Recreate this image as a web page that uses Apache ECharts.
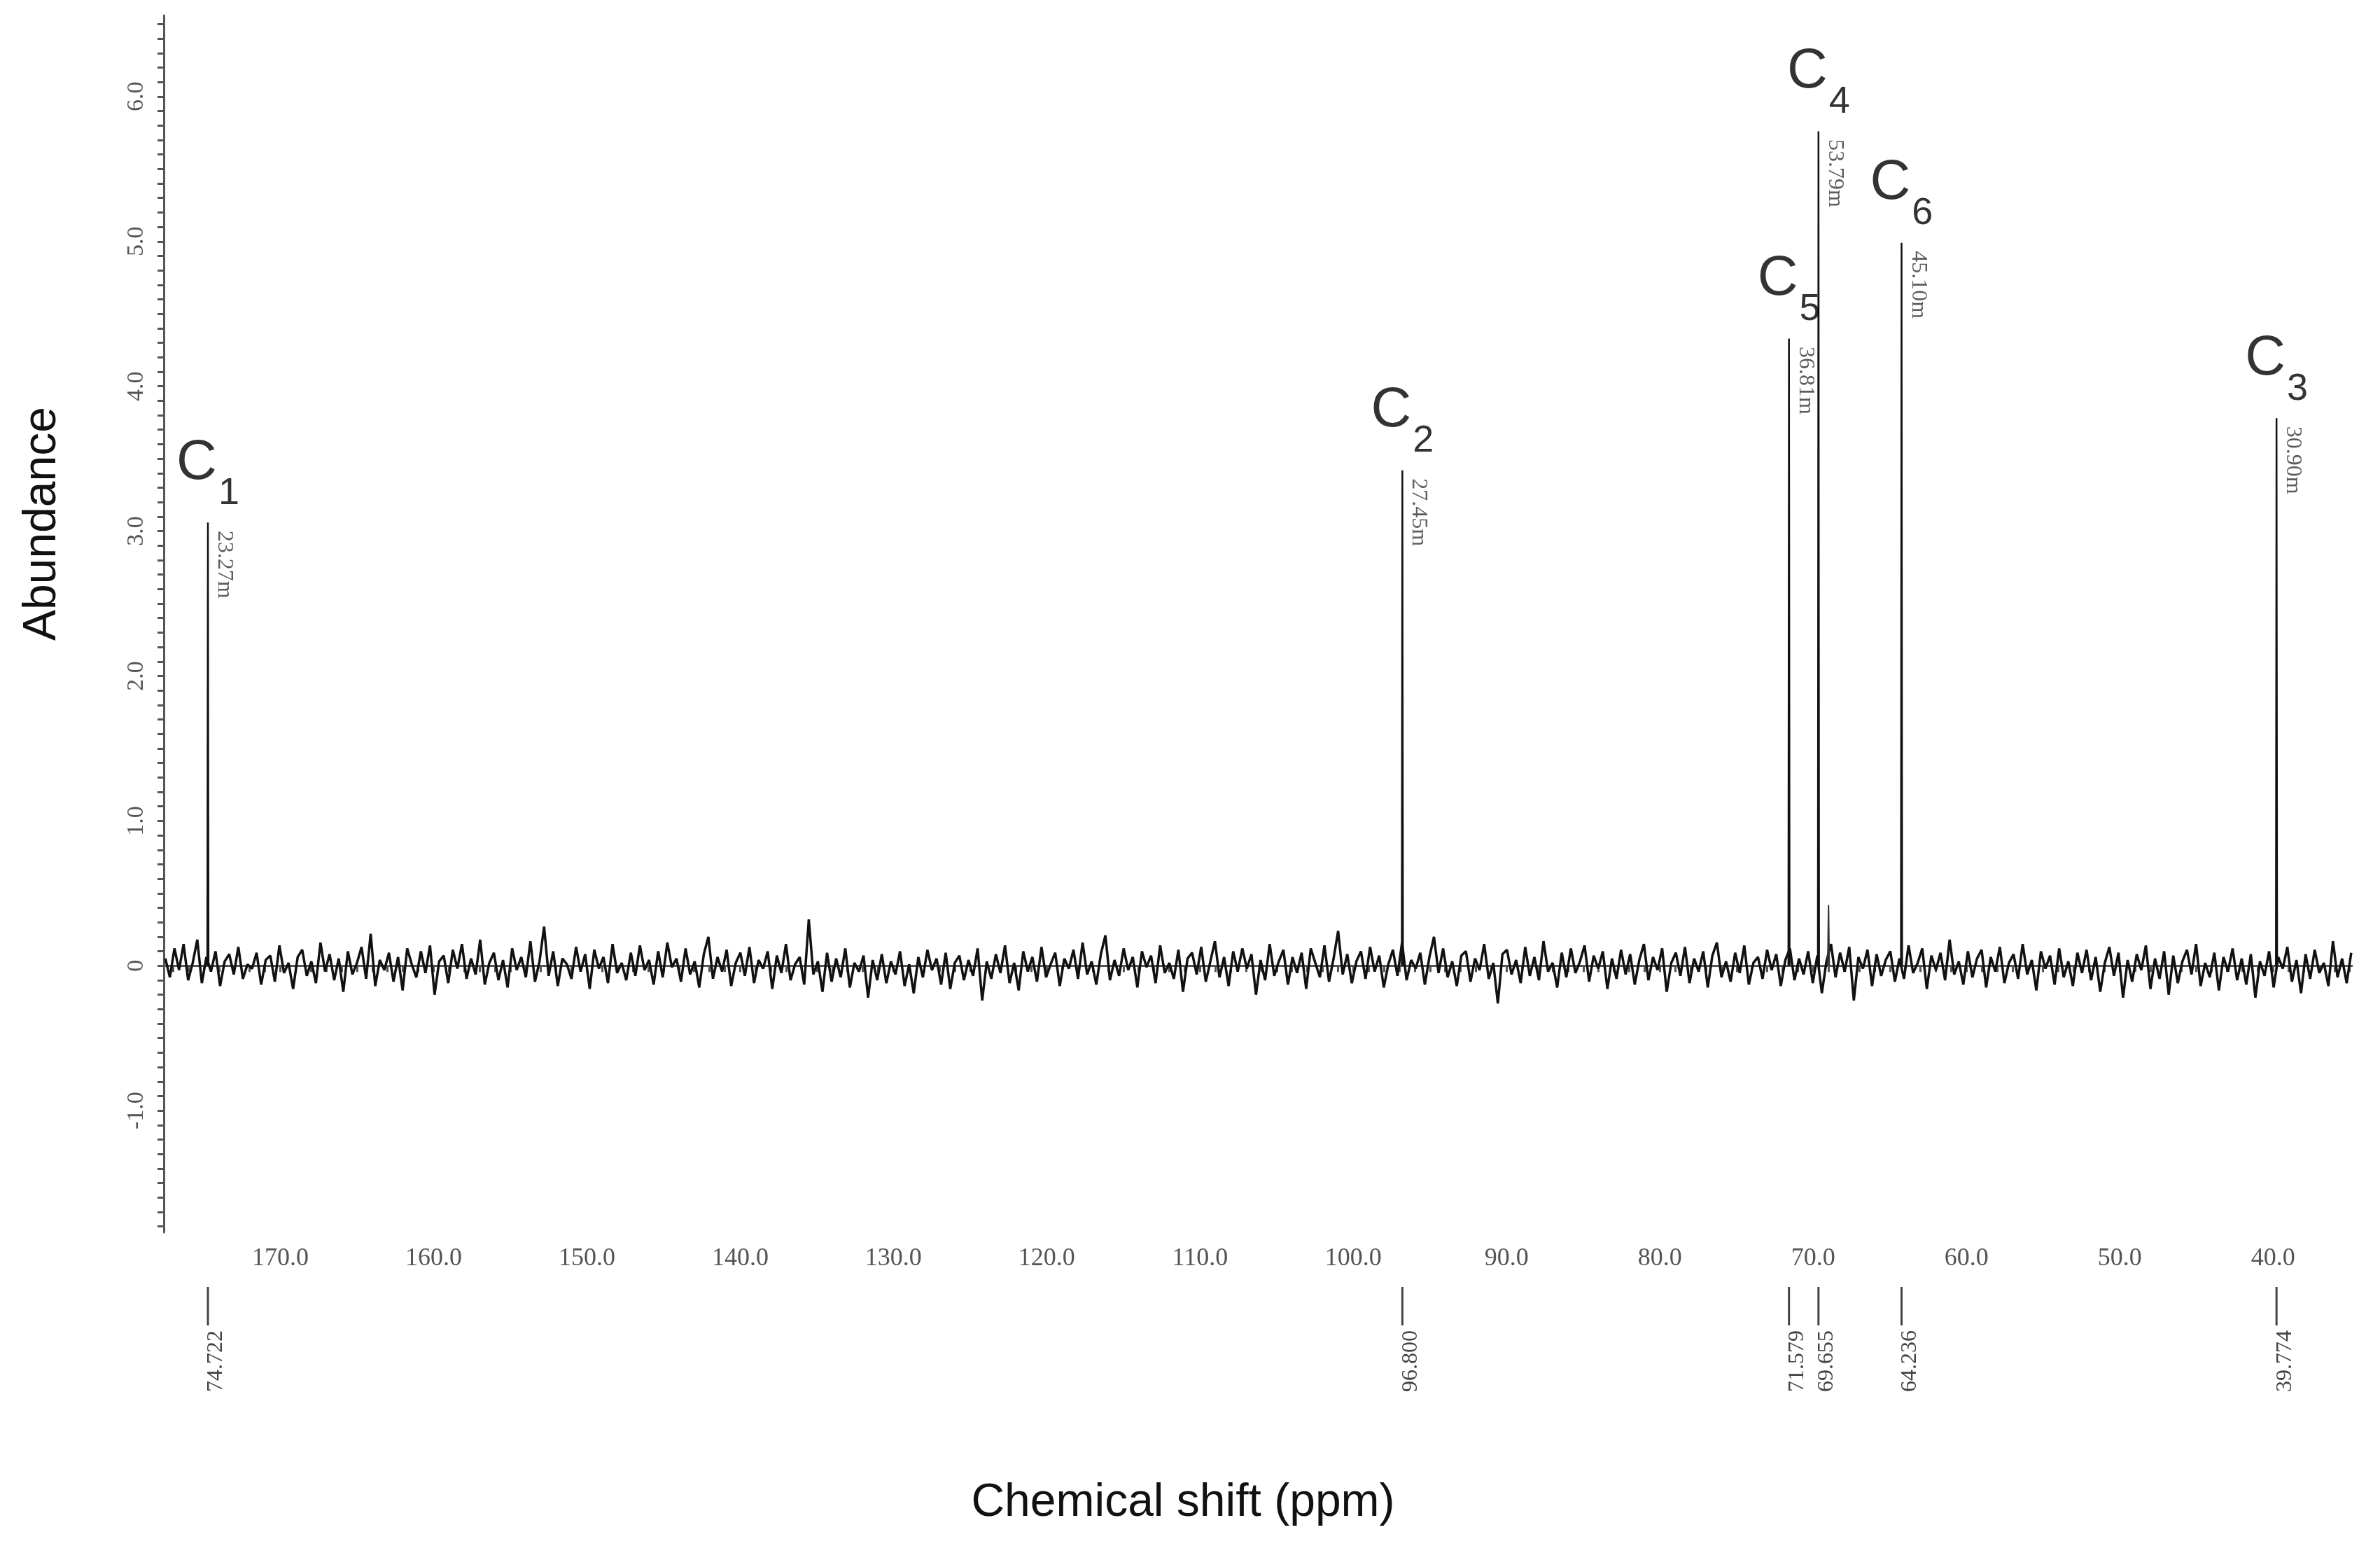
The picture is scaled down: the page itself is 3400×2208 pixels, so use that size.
<!DOCTYPE html>
<html>
<head>
<meta charset="utf-8">
<script src="https://cdn.jsdelivr.net/npm/echarts@6/dist/echarts.min.js"></script>
<style>html,body{margin:0;padding:0;background:#fff}#chart{width:3400px;height:2208px}</style>
</head>
<body>
<div id="chart"></div>
<script>
// 峰位置 (ppm)、高度、标签
const peakShift = [174.722, 96.800, 71.579, 69.655, 64.236, 39.774];
const peakHeight = [3.06, 3.42, 4.33, 5.76, 4.99, 3.78];
const peakArea = ['23.27m', '27.45m', '36.81m', '53.79m', '45.10m', '30.90m'];
const peakName = ['1', '2', '5', '4', '6', '3'];
const peakBottomLabel = ['74.722', '96.800', '71.579', '69.655', '64.236', '39.774'];
const xLabels = [40, 50, 60, 70, 80, 90, 100, 110, 120, 130, 140, 150, 160, 170];
const yLabels = [-1, 0, 1, 2, 3, 4, 5, 6];

// 基线噪声
const noiseStart = 177.5, noiseEnd = 34.9;
const noise = [
 0.05,-0.08,0.12,-0.03,0.15,-0.10,0.02,0.18,-0.12,0.06,-0.04,0.10,-0.14,0.03,0.08,-0.06,0.13,-0.09,0.01,-0.02,
 0.09,-0.13,0.04,0.07,-0.11,0.14,-0.05,0.02,-0.16,0.06,0.11,-0.07,0.03,-0.12,0.16,-0.04,0.08,-0.10,0.05,-0.18,
 0.10,-0.06,0.02,0.13,-0.09,0.22,-0.14,0.04,-0.03,0.09,-0.11,0.06,-0.17,0.12,0.01,-0.08,0.10,-0.05,0.14,-0.20,
 0.03,0.07,-0.12,0.11,-0.02,0.15,-0.09,0.05,-0.06,0.18,-0.13,0.02,0.09,-0.10,0.04,-0.15,0.12,-0.03,0.06,-0.08,
 0.17,-0.11,0.03,0.27,-0.07,0.10,-0.14,0.05,0.01,-0.09,0.13,-0.04,0.08,-0.16,0.11,-0.02,0.06,-0.12,0.15,-0.05,
 0.02,-0.10,0.09,-0.07,0.14,-0.03,0.04,-0.13,0.10,-0.08,0.16,-0.01,0.05,-0.11,0.12,-0.06,0.03,-0.15,0.08,0.20,
 -0.09,0.06,-0.04,0.11,-0.14,0.02,0.09,-0.07,0.13,-0.12,0.04,-0.02,0.10,-0.16,0.07,-0.05,0.15,-0.10,0.01,0.06,
 -0.13,0.32,-0.06,0.03,-0.18,0.09,-0.11,0.05,-0.08,0.12,-0.15,0.02,-0.04,0.07,-0.22,0.04,-0.10,0.08,-0.12,0.03,
 -0.06,0.10,-0.14,0.01,-0.19,0.06,-0.08,0.11,-0.03,0.05,-0.13,0.09,-0.16,0.02,0.07,-0.10,0.04,-0.07,0.12,-0.24,
 0.03,-0.09,0.08,-0.05,0.14,-0.12,0.02,-0.17,0.10,-0.04,0.06,-0.11,0.13,-0.08,0.01,0.09,-0.14,0.05,-0.02,0.11,
 -0.09,0.16,-0.06,0.03,-0.13,0.08,0.21,-0.10,0.04,-0.07,0.12,-0.03,0.06,-0.15,0.10,-0.01,0.07,-0.12,0.14,-0.05,
 0.02,-0.09,0.11,-0.18,0.05,0.09,-0.06,0.13,-0.11,0.03,0.17,-0.08,0.06,-0.14,0.10,-0.04,0.12,-0.02,0.08,-0.20,
 0.04,-0.10,0.15,-0.07,0.03,0.11,-0.13,0.06,-0.05,0.09,-0.16,0.12,0.02,-0.08,0.14,-0.11,0.05,0.24,-0.06,0.08,
 -0.12,0.03,0.10,-0.09,0.13,-0.04,0.07,-0.15,0.01,0.11,-0.07,0.16,-0.10,0.04,-0.02,0.09,-0.13,0.06,0.20,-0.05,
 0.12,-0.08,0.03,-0.14,0.07,0.10,-0.11,0.05,-0.03,0.15,-0.09,0.02,-0.26,0.08,0.11,-0.06,0.04,-0.12,0.13,-0.07,
 0.06,-0.10,0.17,-0.04,0.02,-0.15,0.09,-0.08,0.12,-0.05,0.03,0.14,-0.11,0.07,-0.02,0.10,-0.16,0.05,-0.09,0.11,
 -0.06,0.08,-0.13,0.04,0.15,-0.10,0.06,-0.03,0.12,-0.18,0.02,0.09,-0.07,0.13,-0.12,0.05,-0.04,0.10,-0.15,0.07,
 0.16,-0.08,0.03,-0.11,0.09,-0.05,0.14,-0.13,0.02,0.06,-0.09,0.11,-0.03,0.08,-0.14,0.04,0.12,-0.10,0.05,-0.06,
 0.10,-0.12,0.07,-0.19,0.03,0.15,-0.08,0.09,-0.04,0.13,-0.24,0.06,-0.02,0.11,-0.14,0.08,-0.07,0.04,0.10,-0.11,
 0.05,-0.09,0.14,-0.05,0.02,0.12,-0.16,0.07,-0.03,0.09,-0.10,0.18,-0.06,0.03,-0.13,0.10,-0.08,0.05,0.11,-0.15,
 0.06,-0.04,0.13,-0.12,0.02,0.08,-0.09,0.15,-0.06,0.04,-0.17,0.10,-0.02,0.07,-0.13,0.12,-0.08,0.03,-0.14,0.09,
 -0.05,0.11,-0.10,0.06,-0.18,0.02,0.13,-0.07,0.09,-0.22,0.04,-0.11,0.08,-0.03,0.14,-0.16,0.05,-0.09,0.10,-0.20,
 0.07,-0.12,0.03,0.11,-0.06,0.15,-0.14,0.02,-0.08,0.09,-0.17,0.06,-0.04,0.12,-0.10,0.05,-0.13,0.08,-0.22,0.03,
 -0.07,0.10,-0.15,0.06,-0.02,0.13,-0.11,0.04,-0.19,0.08,-0.09,0.11,-0.05,0.02,-0.14,0.17,-0.08,0.05,-0.12,0.09
];

const chart = echarts.init(document.getElementById('chart'));
const baseColor = '#555';
const serif = '"Liberation Serif", "DejaVu Serif", serif';
const sans = '"Liberation Sans", Arial, sans-serif';

const noiseData = noise.map((v, i) => [noiseStart + (noiseEnd - noiseStart) * i / (noise.length - 1), v]);
const yTicks = [];
for (let i = -18; i <= 65; i++) yTicks.push(i / 10);
const xTicks = [];
for (let i = 35; i <= 177; i++) xTicks.push(i);

const peakSeries = peakShift.map((x, i) => ({
    type: 'line',
    data: [[x + 0.04, 0], [x, peakHeight[i]], [x - 0.04, 0]],
    symbol: 'none',
    lineStyle: { color: '#111', width: 2.5 },
    z: 3
}));

const option = {
    animation: false,
    backgroundColor: '#fff',
    grid: { left: 234, right: 40, top: 22, bottom: 448 },
    xAxis: {
        type: 'value',
        inverse: true,
        min: 34.85,
        max: 177.6,
        axisLine: { show: true, lineStyle: { color: baseColor, width: 3 } },
        axisTick: { show: true, customValues: xTicks, length: 9, lineStyle: { color: baseColor, width: 3 } },
        axisLabel: {
            customValues: xLabels,
            formatter: v => v.toFixed(1),
            fontSize: 36, color: '#555', fontFamily: serif, margin: 20
        },
        splitLine: { show: false }
    },
    yAxis: {
        type: 'value',
        min: -1.84,
        max: 6.56,
        axisLine: { show: true, lineStyle: { color: baseColor, width: 3 } },
        axisTick: { show: true, customValues: yTicks, length: 9, lineStyle: { color: baseColor, width: 3 } },
        axisLabel: {
            customValues: yLabels,
            formatter: v => (v === 0 ? '0' : v.toFixed(1)),
            rotate: 90,
            fontSize: 34, color: '#555', fontFamily: serif, margin: 22
        },
        splitLine: { show: false }
    },
    series: [
        {
            type: 'line',
            data: noiseData,
            symbol: 'none',
            lineStyle: { color: '#111', width: 3.5 },
            z: 2
        },
        ...peakSeries,
        {
            type: 'line',
            data: [[69.05, 0], [69.0, 0.42], [68.95, 0]],
            symbol: 'none',
            lineStyle: { color: '#333', width: 2 }
        },
        {
            type: 'scatter',
            symbolSize: 1,
            itemStyle: { color: 'transparent' },
            data: peakShift.map((x, i) => [x, peakHeight[i]]),
            label: {
                show: true,
                formatter: p => peakArea[p.dataIndex],
                position: [24, 12],
                rotate: -90,
                align: 'left',
                verticalAlign: 'middle',
                fontSize: 32, color: '#333', fontFamily: serif
            },
            z: 5
        },
        {
            type: 'scatter',
            symbolSize: 1,
            itemStyle: { color: 'transparent' },
            data: peakShift.map((x, i) => [x, peakHeight[i]]),
            label: {
                show: true,
                formatter: p => '{c|C}{s|' + peakName[p.dataIndex] + '}',
                position: 'top',
                distance: 14,
                rich: {
                    c: { fontSize: 80, lineHeight: 110, color: '#000', fontFamily: sans, verticalAlign: 'top' },
                    s: { fontSize: 54, lineHeight: 60, color: '#000', fontFamily: sans, verticalAlign: 'bottom', padding: [50, 0, 0, 2] }
                }
            },
            z: 5
        }
    ],
    graphic: [
        {
            type: 'text', x: 61, y: 748, rotation: Math.PI / 2,
            style: { text: 'Abundance', fontSize: 66, fontFamily: sans, fill: '#111', align: 'center', verticalAlign: 'middle' }
        },
        {
            type: 'text', x: 1690, y: 2147,
            style: { text: 'Chemical shift (ppm)', fontSize: 66, fontFamily: sans, fill: '#111', align: 'center', verticalAlign: 'middle' }
        }
    ]
};

chart.setOption(option);

// 轴下方的峰位标记
const marks = [];
peakShift.forEach((x, i) => {
    const px = chart.convertToPixel({ xAxisIndex: 0 }, x);
    marks.push({
        type: 'line',
        shape: { x1: px, y1: 1838, x2: px, y2: 1893 },
        style: { stroke: '#444', lineWidth: 3 }
    });
    marks.push({
        type: 'text',
        x: px + 12,
        y: 1900,
        rotation: Math.PI / 2,
        style: {
            text: peakBottomLabel[i],
            fontSize: 32,
            fontFamily: serif,
            fill: '#444',
            align: 'right',
            verticalAlign: 'middle'
        }
    });
});
chart.setOption({ graphic: option.graphic.concat(marks) });
</script>
</body>
</html>
